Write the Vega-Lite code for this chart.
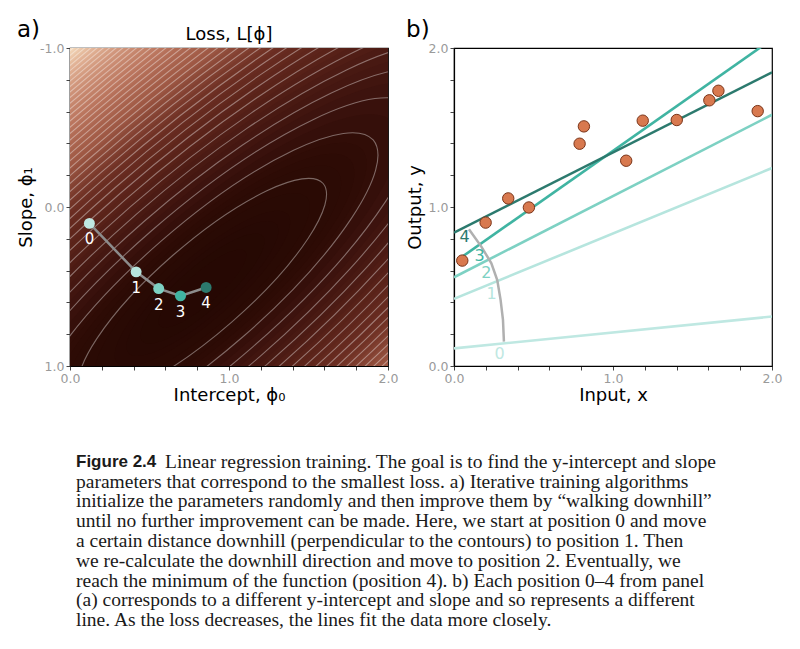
{
  "$schema": "https://vega.github.io/schema/vega-lite/v6.json",
  "padding": {"left": 17, "top": 18, "right": 5, "bottom": 5},
  "background": "white",
  "title": {"text": "a)", "anchor": "start", "frame": "bounds", "offset": -24, "fontSize": 23, "fontWeight": "normal", "font": "DejaVu Sans", "color": "black"},
  "config": {
    "view": {"stroke": "black", "strokeWidth": 1.2},
    "font": "DejaVu Sans",
    "axis": {"grid": false, "domainColor": "black", "domainWidth": 1.2, "tickColor": "#444444", "tickSize": 4, "labelColor": "#9a9a9a", "labelFontSize": 12.5, "labelFont": "DejaVu Sans", "labelPadding": 2, "titleFont": "DejaVu Sans", "titleFontSize": 18, "titleFontWeight": "normal", "titleColor": "black", "labelFlush": false, "labelOverlap": false, "labelBound": false},
    "title": {"font": "DejaVu Sans", "fontWeight": "normal", "color": "black"}
  },
  "datasets": {
    "fillLevels": [{"phi0": 0.833, "phi1": 0.513, "levels": [0.25,0.5,0.75,1,1.5,2,2.5,3,3.5,4,5,6,7,8,9,10,11,12,13,14,15,16,17,18,19,20,21,22,23,24,25,26,27,28,29,30,31,32,33,34,35,36,37,38,39,40,41,42,43,44,45,46,47,48,49,50,51,52,53,54,55,56,57,58,59,60,61,62,63,64,65,66,67,68,69,70,71,72,73,74,75,76]}],
    "contours": [{"phi0": 0.833, "phi1": 0.513, "levels": [2,4,6,8,10,12,14,16,18,20,22,24,26,28,30,32,34,36,38,40,42,44,46,48,50,52,54,56,58,60,62,64,66,68,70,72]}],
    "path": [
      {"step": "0", "phi0": 0.122, "phi1": 0.103},
      {"step": "1", "phi0": 0.416, "phi1": 0.408},
      {"step": "2", "phi0": 0.558, "phi1": 0.513},
      {"step": "3", "phi0": 0.695, "phi1": 0.559},
      {"step": "4", "phi0": 0.856, "phi1": 0.506}
    ],
    "lines": [
      {"id": "0", "x": 0, "y": 0.111}, {"id": "0", "x": 2, "y": 0.311},
      {"id": "1", "x": 0, "y": 0.422}, {"id": "1", "x": 2, "y": 1.245},
      {"id": "2", "x": 0, "y": 0.558}, {"id": "2", "x": 2, "y": 1.58},
      {"id": "3", "x": 0.04, "y": 0.679}, {"id": "3", "x": 2, "y": 2.055},
      {"id": "4", "x": 0, "y": 0.839}, {"id": "4", "x": 2, "y": 1.847}
    ],
    "arc": [
      {"x": 0.094, "y": 0.86}, {"x": 0.172, "y": 0.751}, {"x": 0.235, "y": 0.646}, {"x": 0.272, "y": 0.541}, {"x": 0.293, "y": 0.416}, {"x": 0.308, "y": 0.29}, {"x": 0.314, "y": 0.153}
    ],
    "numlabels": [
      {"id": "4", "x": 0.067, "y": 0.81}, {"id": "3", "x": 0.161, "y": 0.693}, {"id": "2", "x": 0.203, "y": 0.588}, {"id": "1", "x": 0.237, "y": 0.453}, {"id": "0", "x": 0.287, "y": 0.073}
    ],
    "points": [
      {"x": 0.052, "y": 0.663}, {"x": 0.199, "y": 0.902}, {"x": 0.341, "y": 1.054}, {"x": 0.471, "y": 0.997}, {"x": 0.79, "y": 1.398}, {"x": 0.817, "y": 1.507}, {"x": 1.083, "y": 1.291}, {"x": 1.187, "y": 1.543}, {"x": 1.401, "y": 1.547}, {"x": 1.606, "y": 1.671}, {"x": 1.663, "y": 1.731}, {"x": 1.91, "y": 1.603}
    ],
    "caption": [
      {"row": 0, "text": "Linear regression training. The goal is to find the y-intercept and slope"},
      {"row": 1, "text": "parameters that correspond to the smallest loss. a) Iterative training algorithms"},
      {"row": 2, "text": "initialize the parameters randomly and then improve them by “walking downhill”"},
      {"row": 3, "text": "until no further improvement can be made. Here, we start at position 0 and move"},
      {"row": 4, "text": "a certain distance downhill (perpendicular to the contours) to position 1. Then"},
      {"row": 5, "text": "we re-calculate the downhill direction and move to position 2. Eventually, we"},
      {"row": 6, "text": "reach the minimum of the function (position 4). b) Each position 0–4 from panel"},
      {"row": 7, "text": "(a) corresponds to a different y-intercept and slope and so represents a different"},
      {"row": 8, "text": "line. As the loss decreases, the lines fit the data more closely."}
    ],
    "captionHead": [{"row": 0, "text": "Figure 2.4"}]
  },
  "spacing": 45,
  "vconcat": [
    {
      "bounds": "flush",
      "spacing": 66,
      "hconcat": [
        {
          "width": 318,
          "height": 318,
          "title": {"text": "Loss, L[ϕ]", "anchor": "middle", "frame": "group", "fontSize": 18, "offset": -2},
          "encoding": {
            "x": {"field": "phi0", "type": "quantitative", "scale": {"domain": [0, 2]}, "axis": {"title": "Intercept, ϕ₀", "values": [0,0.2,0.4,0.6,0.8,1,1.2,1.4,1.6,1.8,2], "labelExpr": "datum.value == 0 ? '0.0' : datum.value == 1 ? '1.0' : datum.value == 2 ? '2.0' : ''", "titlePadding": 2}},
            "y": {"field": "phi1", "type": "quantitative", "scale": {"domain": [-1, 1], "reverse": true}, "axis": {"title": "Slope, ϕ₁", "values": [-1,-0.8,-0.6,-0.4,-0.2,0,0.2,0.4,0.6,0.8,1], "labelExpr": "datum.value == -1 ? '-1.0' : datum.value == 0 ? '0.0' : datum.value == 1 ? '1.0' : ''", "titlePadding": 4}}
          },
          "layer": [
            {
              "data": {"name": "fillLevels"},
              "transform": [{"flatten": ["levels"], "as": ["dL"]}],
              "mark": {"type": "point", "shape": "M 0.7543 -0.6565 A 1 0.2797 -41.03 0 1 -0.7543 0.6565 A 1 0.2797 -41.03 0 1 0.7543 -0.6565 Z", "filled": true, "opacity": 1, "strokeWidth": 0, "clip": true},
              "encoding": {
                "size": {"field": "dL", "type": "quantitative", "scale": {"domain": [0, 100], "range": [0, 5123000]}, "legend": null},
                "fill": {"field": "dL", "type": "quantitative", "scale": {"domain": [0, 3, 8, 14, 22, 33, 45, 58, 66, 73], "range": ["#250803", "#2d0b05", "#41150f", "#572118", "#6d2f23", "#9e5844", "#ba755e", "#d2987e", "#e3b598", "#f3d8ba"]}, "legend": null},
                "order": {"field": "dL", "type": "quantitative", "sort": "descending"}
              }
            },
            {
              "data": {"name": "contours"},
              "transform": [{"flatten": ["levels"], "as": ["dL"]}],
              "mark": {"type": "point", "shape": "M 0.7543 -0.6565 A 1 0.2797 -41.03 0 1 -0.7543 0.6565 A 1 0.2797 -41.03 0 1 0.7543 -0.6565 Z", "filled": false, "stroke": "#ffffff", "strokeOpacity": 0.38, "strokeWidth": 1.1, "opacity": 1, "clip": true},
              "encoding": {
                "size": {"field": "dL", "type": "quantitative", "scale": {"domain": [0, 100], "range": [0, 5123000]}, "legend": null}
              }
            },
            {
              "data": {"name": "path"},
              "mark": {"type": "line", "color": "#8c8c8c", "strokeWidth": 2.5}
            },
            {
              "data": {"name": "path"},
              "mark": {"type": "circle", "size": 120, "opacity": 1},
              "encoding": {
                "color": {"field": "step", "type": "nominal", "scale": {"domain": ["0", "1", "2", "3", "4"], "range": ["#bfe8e2", "#b6e5de", "#7dd1c3", "#40b4a2", "#2c7a6e"]}, "legend": null}
              }
            },
            {
              "data": {"name": "path"},
              "mark": {"type": "text", "fontSize": 15, "color": "#ffffff", "dy": 16, "baseline": "middle", "font": "DejaVu Sans"},
              "encoding": {
                "text": {"field": "step"}
              }
            }
          ]
        },
        {
          "width": 318,
          "height": 318,
          "title": {"text": "b)", "anchor": "start", "frame": "bounds", "fontSize": 23, "offset": 0},
          "encoding": {
            "x": {"field": "x", "type": "quantitative", "scale": {"domain": [0, 2]}, "axis": {"title": "Input, x", "values": [0,0.2,0.4,0.6,0.8,1,1.2,1.4,1.6,1.8,2], "labelExpr": "datum.value == 0 ? '0.0' : datum.value == 1 ? '1.0' : datum.value == 2 ? '2.0' : ''", "titlePadding": 2}},
            "y": {"field": "y", "type": "quantitative", "scale": {"domain": [0, 2]}, "axis": {"title": "Output, y", "values": [0,0.2,0.4,0.6,0.8,1,1.2,1.4,1.6,1.8,2], "labelExpr": "datum.value == 0 ? '0.0' : datum.value == 1 ? '1.0' : datum.value == 2 ? '2.0' : ''", "titlePadding": 4}}
          },
          "layer": [
            {
              "data": {"name": "lines"},
              "mark": {"type": "line", "strokeWidth": 2.6, "clip": true},
              "encoding": {
                "color": {"field": "id", "type": "nominal", "scale": {"domain": ["0", "1", "2", "3", "4"], "range": ["#b7e4dc", "#8dd5c7", "#82d0c1", "#3db29f", "#2b7a6c"]}, "legend": null}
              }
            },
            {
              "data": {"name": "arc"},
              "mark": {"type": "line", "color": "#b0b0b0", "strokeWidth": 2.5}
            },
            {
              "data": {"name": "numlabels"},
              "mark": {"type": "text", "fontSize": 16, "baseline": "middle", "font": "DejaVu Sans"},
              "encoding": {
                "text": {"field": "id"},
                "color": {"field": "id", "type": "nominal", "scale": {"domain": ["0", "1", "2", "3", "4"], "range": ["#b7e4dc", "#8dd5c7", "#82d0c1", "#3db29f", "#2b7a6c"]}, "legend": null}
              }
            },
            {
              "data": {"name": "points"},
              "mark": {"type": "point", "shape": "circle", "filled": true, "size": 130, "opacity": 1, "fill": "#d8794f", "stroke": "#7a3418", "strokeWidth": 1}
            }
          ]
        }
      ]
    },
    {
      "width": 700,
      "height": 178,
      "view": {"stroke": null},
      "encoding": {
        "x": {"datum": 0, "type": "quantitative", "scale": {"domain": [0, 1]}, "axis": null},
        "y": {"field": "row", "type": "quantitative", "scale": {"domain": [-0.5, 8.5], "reverse": true}, "axis": null},
        "text": {"field": "text"}
      },
      "layer": [
        {
          "data": {"name": "caption"},
          "transform": [{"filter": "datum.row > 0"}],
          "mark": {"type": "text", "align": "left", "baseline": "middle", "font": "Liberation Serif", "fontSize": 19.5, "color": "#1a1a1a", "dx": 6}
        },
        {
          "data": {"name": "caption"},
          "transform": [{"filter": "datum.row == 0"}],
          "mark": {"type": "text", "align": "left", "baseline": "middle", "font": "Liberation Serif", "fontSize": 19.5, "color": "#1a1a1a", "dx": 95}
        },
        {
          "data": {"name": "captionHead"},
          "mark": {"type": "text", "align": "left", "baseline": "middle", "font": "Liberation Sans", "fontWeight": "bold", "fontSize": 17, "color": "#1a1a1a", "dx": 6}
        }
      ]
    }
  ]
}
